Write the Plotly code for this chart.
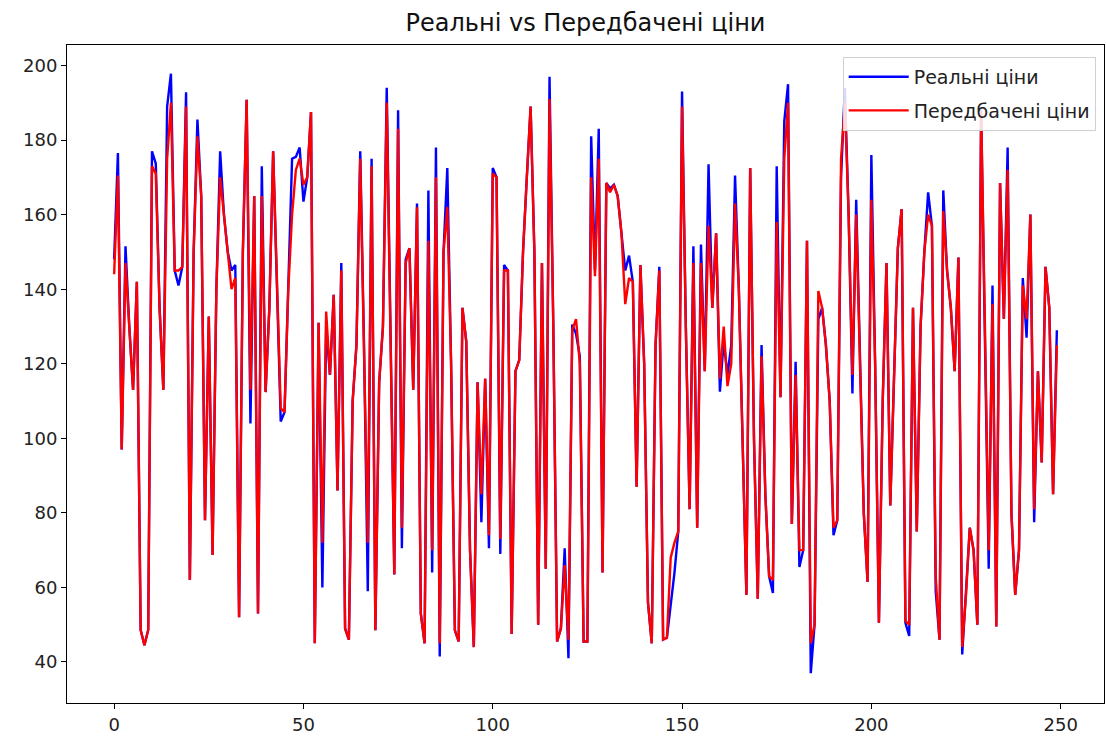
import plotly.graph_objects as go

real = [148, 176.5, 97, 151.5, 130, 113, 142, 48.6, 44.5, 48.6,
        177, 173.7, 135, 113, 189, 197.8, 145, 141, 146, 192.8,
        62, 150, 185.5, 165, 78, 132.7, 68.7, 140, 177, 160,
        150, 145, 146.5, 52, 150, 190.8, 104, 165, 53, 173,
        112.4, 135, 177, 140, 104.5, 107, 140, 175, 175.5, 178,
        163.5, 170, 187.5, 45, 131, 60, 130, 117, 138.5, 86,
        147, 49, 46, 110, 125, 177, 125, 59, 175, 48.5,
        115, 130, 194, 130, 63.5, 188, 70.5, 148, 151, 113,
        163, 53, 45, 166.5, 64, 178, 41.5, 150, 172.5, 120,
        48.5, 45.5, 135, 126, 70, 44, 115, 77.5, 116, 70.5,
        172.5, 170, 69, 146.5, 145, 47.5, 118, 121, 150, 170,
        189, 150, 50, 147, 65, 197, 130, 45.5, 49, 70.5,
        41, 130.5, 128, 122, 45.5, 45.5, 181, 145, 183, 64,
        168.5, 167, 168, 165, 155, 145, 149, 142, 87, 146.5,
        120, 56, 45, 125, 146, 46, 46.5, 55, 64, 75,
        193, 130, 81, 151.5, 76, 152, 118, 173.5, 135, 155,
        112.5, 126, 117, 125, 170.5, 140, 100, 58, 172.5, 100,
        57, 125, 85, 63, 58.5, 173, 111, 185, 195, 77,
        120.5, 65.5, 70, 153, 37, 50, 132, 135, 125, 110,
        74, 78, 170, 194, 160, 112, 164, 120, 80, 61.5,
        176, 120, 50.5, 110, 147, 82, 120, 151, 161.5, 50.5,
        47, 135, 75, 130, 150, 166, 157, 59, 46, 166.5,
        145, 135, 118, 148.5, 42, 58, 76, 70, 50, 188,
        130, 65, 141, 49.5, 168.5, 132, 178, 80, 58, 70,
        143, 127, 160, 77.5, 118, 93.5, 146, 135, 85, 129]

predicted = [144, 170.5, 97, 147, 130, 113, 142, 48.6, 44.5, 48.6,
             173, 171, 135, 113, 175, 190, 145, 145, 146, 189,
             62, 150, 181, 165, 78, 132.7, 68.7, 140, 170, 160,
             150, 140, 143, 52, 150, 190.8, 113, 165, 53, 165,
             112.4, 135, 177, 140, 108, 107, 140, 160, 172, 175,
             168, 170, 187.5, 45, 131, 72, 134, 117, 138.5, 86,
             145, 49, 46, 110, 125, 175, 125, 72, 173, 48.5,
             115, 130, 190, 130, 63.5, 183, 76, 147, 151, 113,
             162, 53, 45, 153, 70, 170, 45, 150, 162, 120,
             48.5, 45.5, 135, 126, 70, 44, 115, 85, 116, 74,
             171, 170, 73, 145, 145, 47.5, 118, 121, 150, 170,
             189, 150, 50, 147, 65, 191, 130, 45.5, 49, 66,
             46, 129, 132, 120, 45.5, 45.5, 170, 143.5, 175, 64,
             168.5, 166, 168, 165, 155, 136, 143, 142, 87, 146.5,
             120, 56, 45, 125, 145, 46, 46.5, 68, 72, 75,
             189, 130, 81, 147, 76, 147, 118, 157, 135, 155,
             116, 130, 114, 120, 163, 140, 100, 58, 172.5, 100,
             57, 122, 85, 63, 62, 158, 111, 175, 190, 77,
             117, 70, 70, 153, 45, 50, 139.5, 135, 125, 110,
             76, 78, 175, 190, 160, 117, 160, 120, 80, 61.5,
             164, 120, 50.5, 110, 147, 82, 120, 151, 161.5, 51,
             50, 135, 75, 130, 150, 160, 157, 63, 46, 161,
             145, 135, 118, 148.5, 44, 58, 76, 70, 50, 188,
             130, 70, 136, 49.5, 168.5, 132, 172, 80, 58, 70,
             141, 132, 160, 81, 118, 93.5, 146, 135, 85, 125]

x_idx = list(range(len(real)))
x_ticks = [0, 50, 100, 150, 200, 250]
y_ticks = [40, 60, 80, 100, 120, 140, 160, 180, 200]

fig = go.Figure()
fig.add_trace(go.Scatter(x=x_idx, y=real, mode="lines", name="Реальні ціни",
                         legendgroup="a",
                         line=dict(color="#0000ff", width=2.4)))
fig.add_trace(go.Scatter(x=x_idx, y=predicted, mode="lines", name="Передбачені ціни",
                         legendgroup="b",
                         line=dict(color="#ff0000", width=2.4)))

font_family = "DejaVu Sans, sans-serif"
fig.update_layout(
    width=1106, height=742,
    margin=dict(l=67, r=2, t=45, b=39),
    paper_bgcolor="white", plot_bgcolor="white",
    font=dict(family=font_family, size=18, color="#222222"),
    title=dict(text="Реальні vs Передбачені ціни", xref="paper", x=0.5, xanchor="center",
               y=0.97, yanchor="middle", font=dict(size=24, color="#111111")),
    showlegend=True,
    legend=dict(x=0.992, y=0.982, xanchor="right", yanchor="top",
                bgcolor="rgba(255,255,255,0.85)", bordercolor="#d0d0d0", borderwidth=1,
                font=dict(size=19, color="#222222"), traceorder="grouped",
                tracegroupgap=6, itemwidth=60),
    xaxis=dict(range=[-12.45, 261.45], tickvals=x_ticks, showgrid=False, zeroline=False,
               showline=True, linecolor="black", linewidth=1, mirror=True,
               ticks="outside", ticklen=5, tickcolor="black",
               tickfont=dict(size=18)),
    yaxis=dict(range=[29, 205.5], tickvals=y_ticks, showgrid=False, zeroline=False,
               showline=True, linecolor="black", linewidth=1, mirror=True,
               ticks="outside", ticklen=5, tickcolor="black",
               tickfont=dict(size=18)),
)

fig.write_html("out.html")
